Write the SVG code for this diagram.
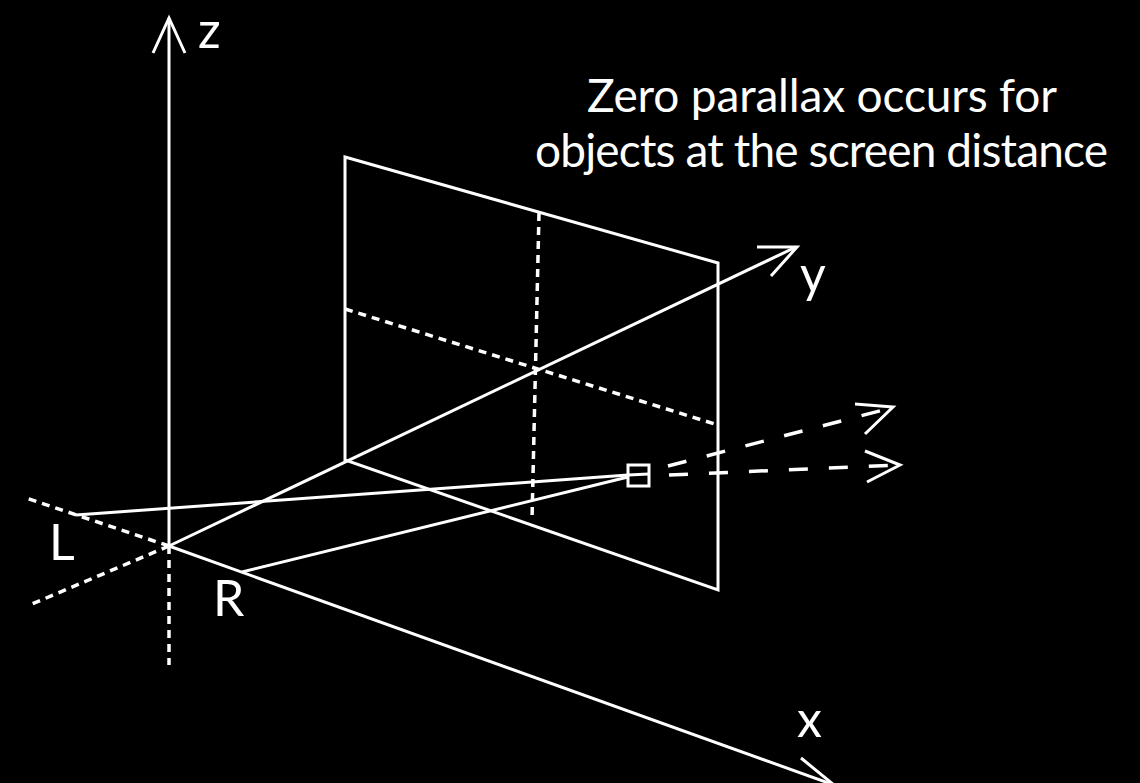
<svg xmlns="http://www.w3.org/2000/svg" width="1140" height="783" viewBox="0 0 1140 783">
<style>
.ln{stroke:#fff;stroke-width:3;fill:none;stroke-linecap:butt;stroke-linejoin:miter}
.dot{stroke:#fff;stroke-width:3.5;fill:none;stroke-dasharray:8 6}
.dash{stroke:#fff;stroke-width:3.5;fill:none;stroke-dasharray:19 21}
.t{fill:#fff;font-family:Lato,"Open Sans","DejaVu Sans",sans-serif}
.cap{font-size:46px}
.lab{font-size:50px}
</style>
<rect x="0" y="0" width="1140" height="783" fill="#000"/>
<g id="connectors">
  <g id="axis-z">
    <line class="ln" x1="169" y1="546" x2="169" y2="18"/>
    <polyline class="ln" points="153,53 169,18 185,53"/>
    <line class="dot" x1="169" y1="546" x2="169" y2="665"/>
  </g>
  <g id="axis-y">
    <line class="ln" x1="169" y1="546" x2="796" y2="247"/>
    <polyline class="ln" points="757,247 797,247 771,276"/>
    <line class="dot" x1="169" y1="546" x2="32" y2="604"/>
  </g>
  <g id="axis-x">
    <line class="ln" x1="169" y1="546" x2="834" y2="785"/>
    <polyline class="ln" points="801,758 834,785 791,785"/>
    <line class="dot" x1="169" y1="546" x2="26" y2="498"/>
  </g>
  <g id="rays">
    <line class="ln" x1="76" y1="515" x2="628" y2="475"/>
    <line class="ln" x1="242" y1="572" x2="628" y2="477"/>
  </g>
  <g id="dashed-arrows">
    <line class="dash" x1="668" y1="466" x2="891" y2="408"/>
    <polyline class="ln" points="855,404 893,407 865,434"/>
    <line class="dash" x1="669" y1="475" x2="898" y2="465"/>
    <polyline class="ln" points="865,451 900,465 867,482"/>
  </g>
</g>
<g id="screen">
  <polygon class="ln" points="345,157 718,263 718,590 345,460"/>
  <line class="dot" x1="345" y1="309" x2="718" y2="425"/>
  <line class="dot" x1="539" y1="213" x2="532" y2="520"/>
</g>
<g id="point">
  <rect class="ln" x="628" y="465" width="21" height="21" stroke-width="2.5"/>
  <line class="ln" x1="628" y1="475" x2="649" y2="474" stroke-width="2.5"/>
</g>
<g id="labels">
  <text class="t lab" x="198" y="48">z</text>
  <text class="t lab" x="800" y="292">y</text>
  <text class="t lab" x="797" y="737">x</text>
  <text class="t lab" x="49" y="560">L</text>
  <text class="t lab" x="213" y="616">R</text>
</g>
<g id="caption">
  <text class="t cap" x="587" y="112" textLength="470" lengthAdjust="spacing">Zero parallax occurs for</text>
  <text class="t cap" x="535" y="167" textLength="573" lengthAdjust="spacing">objects at the screen distance</text>
</g>
</svg>
